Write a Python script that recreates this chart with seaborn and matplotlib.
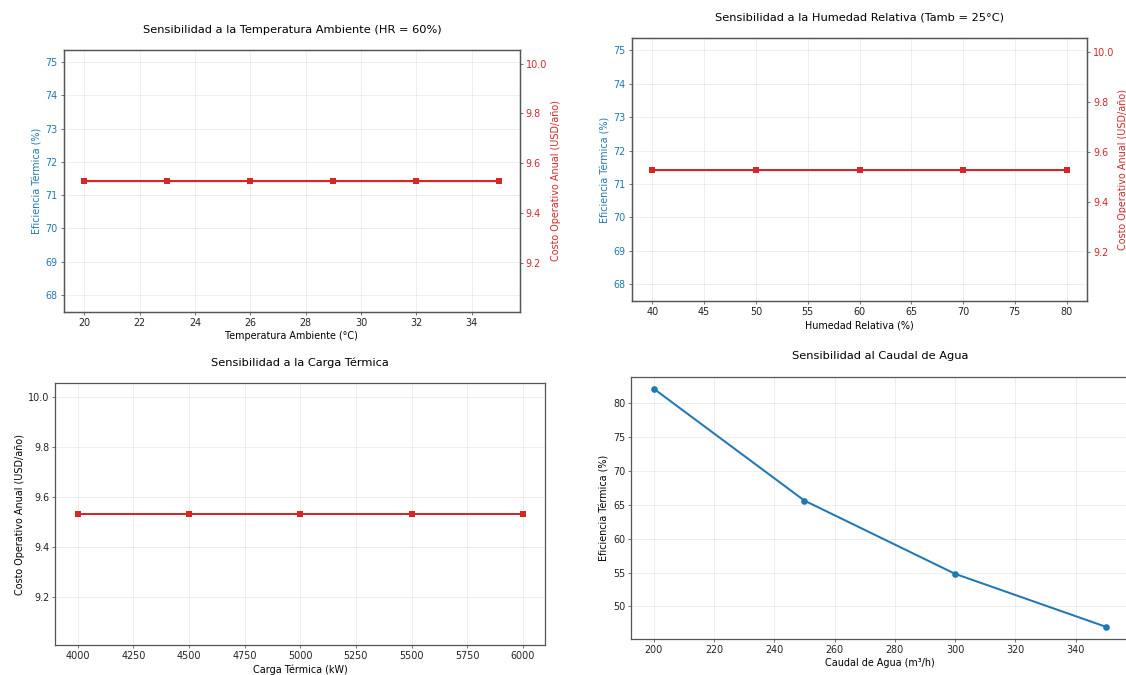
import numpy as np
import pandas as pd
import matplotlib
matplotlib.use("Agg")
import matplotlib.pyplot as plt
import seaborn as sns

# ---- data ----
temp_amb = [20, 23, 26, 29, 32, 35]
eff_temp = [71.43, 71.43, 71.43, 71.43, 71.43, 71.43]
cost_temp = [9.53, 9.53, 9.53, 9.53, 9.53, 9.53]

hum_rel = [40, 50, 60, 70, 80]
eff_hum = [71.43, 71.43, 71.43, 71.43, 71.43]
cost_hum = [9.53, 9.53, 9.53, 9.53, 9.53]

carga = [4000, 4500, 5000, 5500, 6000]
cost_carga = [9.53, 9.53, 9.53, 9.53, 9.53]

caudal = [200, 250, 300, 350]
eff_caudal = [82.1, 65.6, 54.8, 47.0]

BLUE = "#1f77b4"
RED = "#d62728"

plt.rcParams.update({
    "font.family": ["DejaVu Sans"],
    "font.size": 11.5,
    "xtick.labelsize": 11.5,
    "ytick.labelsize": 11.5,
    "axes.linewidth": 1.5,
    "axes.edgecolor": "#555555",
    "xtick.color": "#333333",
    "ytick.color": "#333333",
    "xtick.labelcolor": "#222222",
    "ytick.labelcolor": "#222222",
})

W, H = 1126, 675
fig = plt.figure(figsize=(W / 60, H / 60), dpi=60)

LW = 2.4
MS = 8
LABEL_FS = 11.5
TITLE_FS = 13.6
PAD = 21


def box(l, t, r, b):
    return [l / W, 1 - b / H, (r - l) / W, (b - t) / H]


def twin_panel(rect, x, eff, cost, xlabel, title):
    ax = fig.add_axes(rect)
    # efficiency series (constant, drawn beneath the cost series)
    sns.lineplot(x=x, y=eff, ax=ax, color=BLUE, marker="o", linewidth=1.6,
                 markersize=5, markeredgewidth=0)
    ax.set_xlabel(xlabel, fontsize=LABEL_FS)
    ax.set_ylabel("Eficiencia Térmica (%)", color=BLUE, fontsize=LABEL_FS)
    ax.tick_params(axis="y", labelcolor=BLUE)
    ax.grid(True, alpha=0.3)
    ax2 = ax.twinx()
    sns.lineplot(x=x, y=cost, ax=ax2, color=RED, marker="s", linewidth=LW,
                 markersize=MS, markeredgewidth=0)
    ax2.set_ylabel("Costo Operativo Anual (USD/año)", color=RED, fontsize=LABEL_FS)
    ax2.tick_params(axis="y", labelcolor=RED)
    ax.set_title(title, fontsize=TITLE_FS, pad=PAD)
    return ax, ax2


twin_panel(box(63.7, 50, 520, 311.7), temp_amb, eff_temp, cost_temp,
           "Temperatura Ambiente (°C)",
           "Sensibilidad a la Temperatura Ambiente (HR = 60%)")
twin_panel(box(631.7, 38.3, 1087.3, 301), hum_rel, eff_hum, cost_hum,
           "Humedad Relativa (%)",
           "Sensibilidad a la Humedad Relativa (Tamb = 25°C)")

ax3 = fig.add_axes(box(55.3, 383.3, 545.3, 645.3))
sns.lineplot(x=carga, y=cost_carga, ax=ax3, color=RED, marker="s",
             linewidth=LW, markersize=MS, markeredgewidth=0)
ax3.set_xlabel("Carga Térmica (kW)", fontsize=LABEL_FS)
ax3.set_ylabel("Costo Operativo Anual (USD/año)", fontsize=LABEL_FS)
ax3.set_title("Sensibilidad a la Carga Térmica", fontsize=TITLE_FS, pad=PAD)
ax3.grid(True, alpha=0.3)

ax4 = fig.add_axes(box(631, 376.7, 1128.5, 638.7))
sns.lineplot(x=caudal, y=eff_caudal, ax=ax4, color=BLUE, marker="o",
             linewidth=LW, markersize=MS, markeredgewidth=0)
ax4.set_xlabel("Caudal de Agua (m³/h)", fontsize=LABEL_FS)
ax4.set_ylabel("Eficiencia Térmica (%)", fontsize=LABEL_FS)
ax4.set_title("Sensibilidad al Caudal de Agua", fontsize=TITLE_FS, pad=PAD)
ax4.grid(True, alpha=0.3)

fig.savefig("out.png", dpi=60)
